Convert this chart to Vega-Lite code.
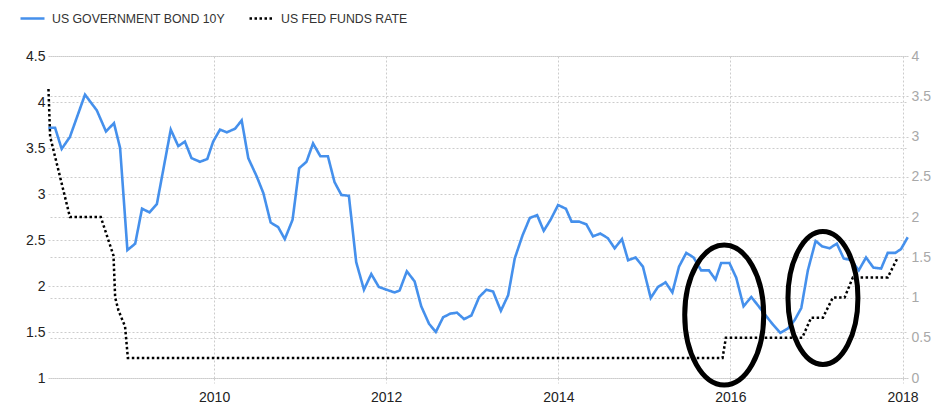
{
  "$schema": "https://vega.github.io/schema/vega-lite/v6.json",
  "width": 860,
  "height": 322,
  "autosize": {"type": "none"},
  "padding": {"left": 48, "top": 56, "right": 44, "bottom": 39},
  "background": "white",
  "config": {
    "font": "Liberation Sans",
    "view": {"stroke": null},
    "legend": {
      "orient": "none",
      "legendX": -29,
      "legendY": -51,
      "direction": "horizontal",
      "symbolType": "stroke",
      "symbolSize": 576,
      "symbolStrokeWidth": 2.5,
      "labelFontSize": 12.3,
      "labelColor": "#333333",
      "labelFont": "Liberation Sans",
      "labelLimit": 0,
      "columnPadding": 19,
      "labelOffset": 6,
      "padding": 0
    }
  },
  "datasets": {
    "bond": [
      {"date": "2008-01-28", "value": 3.72, "series": "US GOVERNMENT BOND 10Y"},
      {"date": "2008-02-26", "value": 3.72, "series": "US GOVERNMENT BOND 10Y"},
      {"date": "2008-03-25", "value": 3.49, "series": "US GOVERNMENT BOND 10Y"},
      {"date": "2008-04-29", "value": 3.62, "series": "US GOVERNMENT BOND 10Y"},
      {"date": "2008-07-02", "value": 4.08, "series": "US GOVERNMENT BOND 10Y"},
      {"date": "2008-08-21", "value": 3.91, "series": "US GOVERNMENT BOND 10Y"},
      {"date": "2008-09-29", "value": 3.68, "series": "US GOVERNMENT BOND 10Y"},
      {"date": "2008-11-02", "value": 3.77, "series": "US GOVERNMENT BOND 10Y"},
      {"date": "2008-11-28", "value": 3.50, "series": "US GOVERNMENT BOND 10Y"},
      {"date": "2008-12-29", "value": 2.39, "series": "US GOVERNMENT BOND 10Y"},
      {"date": "2009-01-31", "value": 2.46, "series": "US GOVERNMENT BOND 10Y"},
      {"date": "2009-03-01", "value": 2.84, "series": "US GOVERNMENT BOND 10Y"},
      {"date": "2009-04-02", "value": 2.80, "series": "US GOVERNMENT BOND 10Y"},
      {"date": "2009-05-03", "value": 2.89, "series": "US GOVERNMENT BOND 10Y"},
      {"date": "2009-07-01", "value": 3.70, "series": "US GOVERNMENT BOND 10Y"},
      {"date": "2009-08-02", "value": 3.52, "series": "US GOVERNMENT BOND 10Y"},
      {"date": "2009-08-30", "value": 3.57, "series": "US GOVERNMENT BOND 10Y"},
      {"date": "2009-09-27", "value": 3.39, "series": "US GOVERNMENT BOND 10Y"},
      {"date": "2009-11-02", "value": 3.35, "series": "US GOVERNMENT BOND 10Y"},
      {"date": "2009-12-03", "value": 3.38, "series": "US GOVERNMENT BOND 10Y"},
      {"date": "2009-12-28", "value": 3.57, "series": "US GOVERNMENT BOND 10Y"},
      {"date": "2010-01-26", "value": 3.70, "series": "US GOVERNMENT BOND 10Y"},
      {"date": "2010-02-24", "value": 3.67, "series": "US GOVERNMENT BOND 10Y"},
      {"date": "2010-03-31", "value": 3.71, "series": "US GOVERNMENT BOND 10Y"},
      {"date": "2010-04-28", "value": 3.80, "series": "US GOVERNMENT BOND 10Y"},
      {"date": "2010-05-26", "value": 3.39, "series": "US GOVERNMENT BOND 10Y"},
      {"date": "2010-07-01", "value": 3.19, "series": "US GOVERNMENT BOND 10Y"},
      {"date": "2010-07-29", "value": 3.01, "series": "US GOVERNMENT BOND 10Y"},
      {"date": "2010-08-29", "value": 2.69, "series": "US GOVERNMENT BOND 10Y"},
      {"date": "2010-09-30", "value": 2.64, "series": "US GOVERNMENT BOND 10Y"},
      {"date": "2010-10-28", "value": 2.51, "series": "US GOVERNMENT BOND 10Y"},
      {"date": "2010-11-30", "value": 2.72, "series": "US GOVERNMENT BOND 10Y"},
      {"date": "2010-12-28", "value": 3.28, "series": "US GOVERNMENT BOND 10Y"},
      {"date": "2011-01-28", "value": 3.35, "series": "US GOVERNMENT BOND 10Y"},
      {"date": "2011-02-25", "value": 3.55, "series": "US GOVERNMENT BOND 10Y"},
      {"date": "2011-03-28", "value": 3.41, "series": "US GOVERNMENT BOND 10Y"},
      {"date": "2011-04-29", "value": 3.41, "series": "US GOVERNMENT BOND 10Y"},
      {"date": "2011-05-27", "value": 3.13, "series": "US GOVERNMENT BOND 10Y"},
      {"date": "2011-06-25", "value": 2.99, "series": "US GOVERNMENT BOND 10Y"},
      {"date": "2011-07-27", "value": 2.98, "series": "US GOVERNMENT BOND 10Y"},
      {"date": "2011-08-27", "value": 2.26, "series": "US GOVERNMENT BOND 10Y"},
      {"date": "2011-09-29", "value": 1.96, "series": "US GOVERNMENT BOND 10Y"},
      {"date": "2011-10-30", "value": 2.13, "series": "US GOVERNMENT BOND 10Y"},
      {"date": "2011-12-01", "value": 1.99, "series": "US GOVERNMENT BOND 10Y"},
      {"date": "2012-01-02", "value": 1.96, "series": "US GOVERNMENT BOND 10Y"},
      {"date": "2012-02-06", "value": 1.93, "series": "US GOVERNMENT BOND 10Y"},
      {"date": "2012-02-27", "value": 1.95, "series": "US GOVERNMENT BOND 10Y"},
      {"date": "2012-03-29", "value": 2.16, "series": "US GOVERNMENT BOND 10Y"},
      {"date": "2012-05-01", "value": 2.05, "series": "US GOVERNMENT BOND 10Y"},
      {"date": "2012-05-29", "value": 1.78, "series": "US GOVERNMENT BOND 10Y"},
      {"date": "2012-07-01", "value": 1.59, "series": "US GOVERNMENT BOND 10Y"},
      {"date": "2012-07-30", "value": 1.50, "series": "US GOVERNMENT BOND 10Y"},
      {"date": "2012-08-30", "value": 1.66, "series": "US GOVERNMENT BOND 10Y"},
      {"date": "2012-09-30", "value": 1.70, "series": "US GOVERNMENT BOND 10Y"},
      {"date": "2012-10-28", "value": 1.71, "series": "US GOVERNMENT BOND 10Y"},
      {"date": "2012-11-27", "value": 1.64, "series": "US GOVERNMENT BOND 10Y"},
      {"date": "2012-12-28", "value": 1.68, "series": "US GOVERNMENT BOND 10Y"},
      {"date": "2013-01-30", "value": 1.88, "series": "US GOVERNMENT BOND 10Y"},
      {"date": "2013-03-02", "value": 1.96, "series": "US GOVERNMENT BOND 10Y"},
      {"date": "2013-03-30", "value": 1.94, "series": "US GOVERNMENT BOND 10Y"},
      {"date": "2013-05-02", "value": 1.73, "series": "US GOVERNMENT BOND 10Y"},
      {"date": "2013-06-02", "value": 1.90, "series": "US GOVERNMENT BOND 10Y"},
      {"date": "2013-06-30", "value": 2.30, "series": "US GOVERNMENT BOND 10Y"},
      {"date": "2013-08-02", "value": 2.55, "series": "US GOVERNMENT BOND 10Y"},
      {"date": "2013-09-02", "value": 2.74, "series": "US GOVERNMENT BOND 10Y"},
      {"date": "2013-10-03", "value": 2.77, "series": "US GOVERNMENT BOND 10Y"},
      {"date": "2013-10-31", "value": 2.60, "series": "US GOVERNMENT BOND 10Y"},
      {"date": "2013-11-29", "value": 2.72, "series": "US GOVERNMENT BOND 10Y"},
      {"date": "2013-12-31", "value": 2.88, "series": "US GOVERNMENT BOND 10Y"},
      {"date": "2014-02-02", "value": 2.84, "series": "US GOVERNMENT BOND 10Y"},
      {"date": "2014-02-26", "value": 2.70, "series": "US GOVERNMENT BOND 10Y"},
      {"date": "2014-03-30", "value": 2.70, "series": "US GOVERNMENT BOND 10Y"},
      {"date": "2014-04-30", "value": 2.67, "series": "US GOVERNMENT BOND 10Y"},
      {"date": "2014-05-28", "value": 2.54, "series": "US GOVERNMENT BOND 10Y"},
      {"date": "2014-06-28", "value": 2.57, "series": "US GOVERNMENT BOND 10Y"},
      {"date": "2014-07-30", "value": 2.52, "series": "US GOVERNMENT BOND 10Y"},
      {"date": "2014-08-28", "value": 2.41, "series": "US GOVERNMENT BOND 10Y"},
      {"date": "2014-09-28", "value": 2.51, "series": "US GOVERNMENT BOND 10Y"},
      {"date": "2014-10-24", "value": 2.28, "series": "US GOVERNMENT BOND 10Y"},
      {"date": "2014-11-25", "value": 2.31, "series": "US GOVERNMENT BOND 10Y"},
      {"date": "2014-12-26", "value": 2.21, "series": "US GOVERNMENT BOND 10Y"},
      {"date": "2015-01-28", "value": 1.87, "series": "US GOVERNMENT BOND 10Y"},
      {"date": "2015-02-28", "value": 1.99, "series": "US GOVERNMENT BOND 10Y"},
      {"date": "2015-04-01", "value": 2.04, "series": "US GOVERNMENT BOND 10Y"},
      {"date": "2015-04-30", "value": 1.93, "series": "US GOVERNMENT BOND 10Y"},
      {"date": "2015-05-28", "value": 2.21, "series": "US GOVERNMENT BOND 10Y"},
      {"date": "2015-06-28", "value": 2.36, "series": "US GOVERNMENT BOND 10Y"},
      {"date": "2015-07-29", "value": 2.31, "series": "US GOVERNMENT BOND 10Y"},
      {"date": "2015-08-30", "value": 2.17, "series": "US GOVERNMENT BOND 10Y"},
      {"date": "2015-10-02", "value": 2.17, "series": "US GOVERNMENT BOND 10Y"},
      {"date": "2015-10-30", "value": 2.07, "series": "US GOVERNMENT BOND 10Y"},
      {"date": "2015-11-23", "value": 2.25, "series": "US GOVERNMENT BOND 10Y"},
      {"date": "2015-12-28", "value": 2.25, "series": "US GOVERNMENT BOND 10Y"},
      {"date": "2016-01-26", "value": 2.09, "series": "US GOVERNMENT BOND 10Y"},
      {"date": "2016-02-26", "value": 1.78, "series": "US GOVERNMENT BOND 10Y"},
      {"date": "2016-03-30", "value": 1.88, "series": "US GOVERNMENT BOND 10Y"},
      {"date": "2016-04-27", "value": 1.79, "series": "US GOVERNMENT BOND 10Y"},
      {"date": "2016-06-02", "value": 1.67, "series": "US GOVERNMENT BOND 10Y"},
      {"date": "2016-06-30", "value": 1.58, "series": "US GOVERNMENT BOND 10Y"},
      {"date": "2016-07-31", "value": 1.49, "series": "US GOVERNMENT BOND 10Y"},
      {"date": "2016-09-02", "value": 1.54, "series": "US GOVERNMENT BOND 10Y"},
      {"date": "2016-09-30", "value": 1.63, "series": "US GOVERNMENT BOND 10Y"},
      {"date": "2016-10-28", "value": 1.76, "series": "US GOVERNMENT BOND 10Y"},
      {"date": "2016-11-25", "value": 2.17, "series": "US GOVERNMENT BOND 10Y"},
      {"date": "2016-12-28", "value": 2.49, "series": "US GOVERNMENT BOND 10Y"},
      {"date": "2017-01-25", "value": 2.43, "series": "US GOVERNMENT BOND 10Y"},
      {"date": "2017-02-25", "value": 2.41, "series": "US GOVERNMENT BOND 10Y"},
      {"date": "2017-03-28", "value": 2.46, "series": "US GOVERNMENT BOND 10Y"},
      {"date": "2017-04-26", "value": 2.30, "series": "US GOVERNMENT BOND 10Y"},
      {"date": "2017-05-28", "value": 2.28, "series": "US GOVERNMENT BOND 10Y"},
      {"date": "2017-06-29", "value": 2.17, "series": "US GOVERNMENT BOND 10Y"},
      {"date": "2017-07-30", "value": 2.31, "series": "US GOVERNMENT BOND 10Y"},
      {"date": "2017-08-30", "value": 2.20, "series": "US GOVERNMENT BOND 10Y"},
      {"date": "2017-10-02", "value": 2.19, "series": "US GOVERNMENT BOND 10Y"},
      {"date": "2017-10-30", "value": 2.36, "series": "US GOVERNMENT BOND 10Y"},
      {"date": "2017-12-01", "value": 2.36, "series": "US GOVERNMENT BOND 10Y"},
      {"date": "2017-12-25", "value": 2.40, "series": "US GOVERNMENT BOND 10Y"},
      {"date": "2018-01-23", "value": 2.53, "series": "US GOVERNMENT BOND 10Y"}
    ],
    "fed": [
      {"date": "2008-01-29", "value": 3.59, "series": "US FED FUNDS RATE"},
      {"date": "2008-02-05", "value": 3.0, "series": "US FED FUNDS RATE"},
      {"date": "2008-04-29", "value": 2.0, "series": "US FED FUNDS RATE"},
      {"date": "2008-09-07", "value": 2.0, "series": "US FED FUNDS RATE"},
      {"date": "2008-10-31", "value": 1.52, "series": "US FED FUNDS RATE"},
      {"date": "2008-11-07", "value": 1.0, "series": "US FED FUNDS RATE"},
      {"date": "2008-11-21", "value": 0.84, "series": "US FED FUNDS RATE"},
      {"date": "2008-12-19", "value": 0.64, "series": "US FED FUNDS RATE"},
      {"date": "2008-12-31", "value": 0.25, "series": "US FED FUNDS RATE"},
      {"date": "2015-11-29", "value": 0.25, "series": "US FED FUNDS RATE"},
      {"date": "2015-12-13", "value": 0.5, "series": "US FED FUNDS RATE"},
      {"date": "2016-11-01", "value": 0.5, "series": "US FED FUNDS RATE"},
      {"date": "2016-12-09", "value": 0.75, "series": "US FED FUNDS RATE"},
      {"date": "2017-01-28", "value": 0.75, "series": "US FED FUNDS RATE"},
      {"date": "2017-03-11", "value": 1.0, "series": "US FED FUNDS RATE"},
      {"date": "2017-04-30", "value": 1.0, "series": "US FED FUNDS RATE"},
      {"date": "2017-06-04", "value": 1.25, "series": "US FED FUNDS RATE"},
      {"date": "2017-10-30", "value": 1.25, "series": "US FED FUNDS RATE"},
      {"date": "2017-12-12", "value": 1.5, "series": "US FED FUNDS RATE"}
    ]
  },
  "layer": [
    {
      "data": {"name": "bond"},
      "mark": {"type": "line", "strokeWidth": 2.6, "interpolate": "linear"},
      "encoding": {
        "x": {
          "field": "date", "type": "temporal",
          "scale": {"domain": ["2008-01-27", "2018-01-24"]},
          "axis": {
            "title": null, "format": "%Y",
            "values": [{"year": 2010, "month": 1, "date": 1}, {"year": 2012, "month": 1, "date": 1}, {"year": 2014, "month": 1, "date": 1}, {"year": 2016, "month": 1, "date": 1}, {"year": 2018, "month": 1, "date": 1}],
            "grid": true, "gridDash": [2, 2], "gridColor": "#cccccc", "gridOpacity": 1,
            "domain": false, "ticks": true, "tickSize": 5, "tickDash": [2, 2], "tickColor": "#cccccc",
            "labelPadding": 7, "labelColor": "#222222", "labelFontSize": 14, "labelFlush": false, "labelOverlap": false
          }
        },
        "y": {
          "field": "value", "type": "quantitative",
          "scale": {"domain": [1, 4.5], "zero": false, "nice": false},
          "axis": {
            "title": null, "orient": "left", "values": [1, 1.5, 2, 2.5, 3, 3.5, 4, 4.5], "format": "~g",
            "grid": true, "gridDash": [2, 2], "gridColor": "#cccccc", "gridOpacity": 1,
            "domain": false, "ticks": false, "labelPadding": 3, "labelColor": "#222222", "labelFontSize": 14
          }
        },
        "color": {
          "field": "series", "type": "nominal",
          "scale": {"domain": ["US GOVERNMENT BOND 10Y", "US FED FUNDS RATE"], "range": ["#4590ec", "#000000"]},
          "legend": {"title": null, "labelLimit": 0}
        },
        "strokeDash": {
          "field": "series", "type": "nominal",
          "scale": {"domain": ["US GOVERNMENT BOND 10Y", "US FED FUNDS RATE"], "range": [[1, 0], [2.5, 2.5]]},
          "legend": {"title": null, "labelLimit": 0}
        }
      }
    },
    {
      "data": {"name": "fed"},
      "mark": {"type": "line", "strokeWidth": 2.5, "interpolate": "linear"},
      "encoding": {
        "x": {"field": "date", "type": "temporal"},
        "y": {
          "field": "value", "type": "quantitative",
          "scale": {"domain": [0, 4], "zero": false, "nice": false},
          "axis": {
            "title": null, "orient": "right", "values": [0, 0.5, 1, 1.5, 2, 2.5, 3, 3.5, 4], "format": "~g",
            "grid": true, "gridDash": [2, 2], "gridColor": "#cccccc", "gridOpacity": 1,
            "domain": false, "ticks": false, "labelPadding": 3, "labelColor": "#a8a8a8", "labelFontSize": 14
          }
        },
        "color": {"field": "series", "type": "nominal", "legend": {"title": null, "labelLimit": 0}},
        "strokeDash": {"field": "series", "type": "nominal", "legend": {"title": null, "labelLimit": 0}}
      }
    },
    {
      "data": {"values": [{"date": "2015-12-06", "value": 1.685}]},
      "mark": {
        "type": "point", "filled": false, "stroke": "#000000", "strokeWidth": 5, "opacity": 1, "size": 19600,
        "shape": "M0,-1C0.3115,-1,0.564,-0.5523,0.564,0C0.564,0.5523,0.3115,1,0,1C-0.3115,1,-0.564,0.5523,-0.564,0C-0.564,-0.5523,-0.3115,-1,0,-1Z"
      },
      "encoding": {
        "x": {"field": "date", "type": "temporal"},
        "y": {"field": "value", "type": "quantitative", "scale": {"domain": [1, 4.5], "zero": false, "nice": false}, "axis": null}
      }
    },
    {
      "data": {"values": [{"date": "2017-01-28", "value": 1.87}]},
      "mark": {
        "type": "point", "filled": false, "stroke": "#000000", "strokeWidth": 5, "opacity": 1, "size": 17689,
        "shape": "M0,-1C0.2905,-1,0.526,-0.5523,0.526,0C0.526,0.5523,0.2905,1,0,1C-0.2905,1,-0.526,0.5523,-0.526,0C-0.526,-0.5523,-0.2905,-1,0,-1Z"
      },
      "encoding": {
        "x": {"field": "date", "type": "temporal"},
        "y": {"field": "value", "type": "quantitative", "scale": {"domain": [1, 4.5], "zero": false, "nice": false}, "axis": null}
      }
    }
  ],
  "resolve": {"scale": {"y": "independent"}}
}
